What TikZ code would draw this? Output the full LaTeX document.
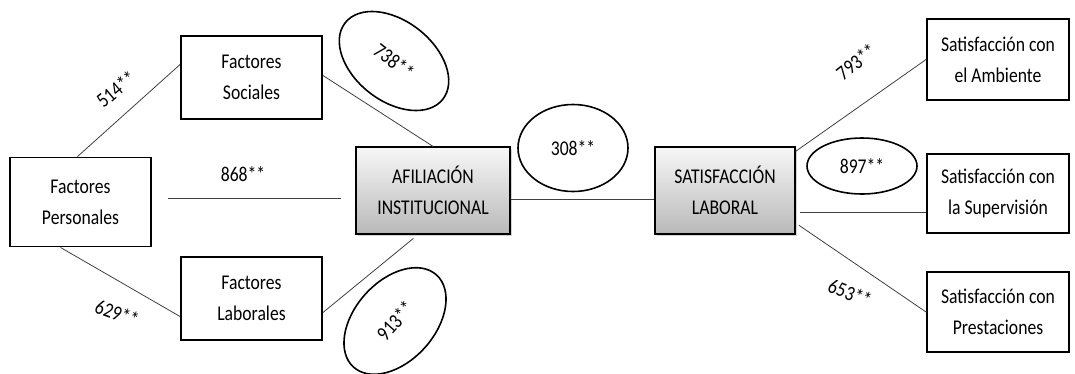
\documentclass[tikz,border=0pt]{standalone}
\usepackage{fontspec}
\setmainfont[FakeStretch=0.84]{Carlito}
\usetikzlibrary{positioning}
\usetikzlibrary{shapes.geometric}
\usetikzlibrary{shadows}

\begin{document}
\begin{tikzpicture}
      [ x=1pt, y=-1pt
        , every node/.style={font=\fontsize{21}{31}\selectfont}
        , box/.style={rectangle, draw, line width=1.9pt, align=center, inner sep=0pt,
                      minimum width=141pt, minimum height=83pt}
        , latent/.style={box, line width=1.2pt, top color=gray!6, bottom color=gray!55,
                      drop shadow={shadow xshift=2pt, shadow yshift=-2pt, opacity=0.35}}
        , coef/.style={ellipse, draw, line width=1.6pt, inner sep=0pt}
        , link/.style={draw=black!75, line width=0.8pt}
      ]
      \useasboundingbox (0,0) rectangle (1075,373);

      % left block
      \node (pers) [box, minimum height=89pt] at (80.5,202) {Factores\\Personales};
      \node (soc) [box] at (251.5,77.5) {Factores\\Sociales};
      \node (lab) [box] at (251.5,298.5) {Factores\\Laborales};
      \node (afil) [latent, minimum width=154pt, minimum height=87pt] at (433,190.5) {AFILIACIÓN\\INSTITUCIONAL};

      % right block
      \node (satl) [latent, minimum width=140pt, minimum height=87pt] at (725,190.5) {SATISFACCIÓN\\LABORAL};
      \node (amb) [box, minimum width=142pt, minimum height=81pt] at (998,59.5) {Satisfacción con\\el Ambiente};
      \node (sup) [box, minimum width=142pt, minimum height=79pt] at (998,193.5) {Satisfacción con\\la Supervisión};
      \node (pre) [box, minimum width=142pt, minimum height=80pt] at (998,312) {Satisfacción con\\Prestaciones};

      \draw[link] ([xshift=-3pt]pers.north) -- ([yshift=13pt]soc.west);
      \draw[link] ([xshift=-20pt]pers.south) -- ([yshift=-18pt]lab.west);
      \draw[link, shorten <=16pt, shorten >=14pt] ([yshift=4pt]pers.east) -- ([yshift=-7.5pt]afil.west);
      \draw[link] ([yshift=2pt]soc.east) -- (afil.north);
      \draw[link, shorten >=6pt] ([yshift=-14pt]lab.east) -- ([xshift=-15pt]afil.south);
      \draw[link] ([yshift=-8.5pt]afil.east) -- ([yshift=-8.5pt]satl.west);
      \draw[link] ([yshift=-5pt]satl.north east) -- (amb.west);
      \draw[link, shorten <=4pt] ([yshift=-21.5pt]satl.east) -- ([yshift=-18.5pt]sup.west);
      \draw[link, shorten <=4pt] ([yshift=-32.5pt]satl.east) -- (pre.west);

      % coefficients
      \node (c514) [rotate=40] at (116,89) {514**};
      \node (c629) [rotate=-20] at (117,313) {629**};
      \node (c868) at (243,174) {868**};
      \node (c738) [coef, rotate=-38, minimum width=124pt, minimum height=80pt] at (394,61) {738**};
      \node (c913) [coef, rotate=48, minimum width=124pt, minimum height=80pt] at (395,321) {913**};
      \node (c308) [coef, minimum width=110pt, minimum height=87pt] at (573,148) {308**};
      \node (c793) [rotate=38] at (856,62) {793**};
      \node (c897) [coef, minimum width=110pt, minimum height=56pt] at (862,166) {897**};
      \node (c653) [rotate=-22] at (850,293) {653**};

    \end{tikzpicture}
\end{document}
